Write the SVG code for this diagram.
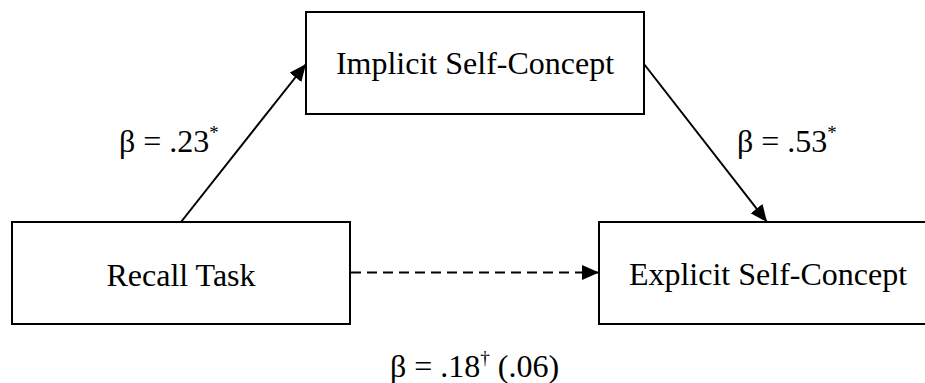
<svg xmlns="http://www.w3.org/2000/svg" width="925" height="383" viewBox="0 0 925 383">
<defs>
<style>
.box{fill:#fff;stroke:#000;stroke-width:2}
.lbl{font-family:"Liberation Serif","Times New Roman",serif;font-size:32px;fill:#000}
.edge{stroke:#000;stroke-width:2;fill:none}
.sup{font-size:19px}
</style>
<marker id="ah" viewBox="0 0 17 15" refX="17" refY="7.5" markerWidth="17" markerHeight="15" markerUnits="userSpaceOnUse" orient="auto">
<path d="M0,0 L17,7.5 L0,15 Z" fill="#000"/>
</marker>
</defs>
<rect width="925" height="383" fill="#fff"/>
<g id="connectors">
<line class="edge" x1="181" y1="222" x2="306" y2="64" marker-end="url(#ah)"/>
<line class="edge" x1="644" y1="64" x2="767" y2="222" marker-end="url(#ah)"/>
<line class="edge" x1="351" y1="272.5" x2="599" y2="272.5" stroke-dasharray="10,6" marker-end="url(#ah)"/>
</g>
<g id="implicit">
<rect class="box" x="306" y="12" width="338" height="102"/>
<text class="lbl" x="475" y="74" text-anchor="middle">Implicit Self-Concept</text>
</g>
<g id="recall">
<rect class="box" x="12" y="222" width="338" height="102"/>
<text class="lbl" x="181" y="286" text-anchor="middle">Recall Task</text>
</g>
<g id="explicit">
<rect class="box" x="599" y="222" width="338" height="102"/>
<text class="lbl" x="768" y="285" text-anchor="middle">Explicit Self-Concept</text>
</g>
<g id="labels">
<text class="lbl" x="119" y="152">β = .23<tspan class="sup" dy="-13">*</tspan></text>
<text class="lbl" x="737" y="152">β = .53<tspan class="sup" dy="-13">*</tspan></text>
<text class="lbl" x="390" y="377">β = .18<tspan class="sup" dy="-13">†</tspan><tspan dy="13"> (.06)</tspan></text>
</g>
</svg>
